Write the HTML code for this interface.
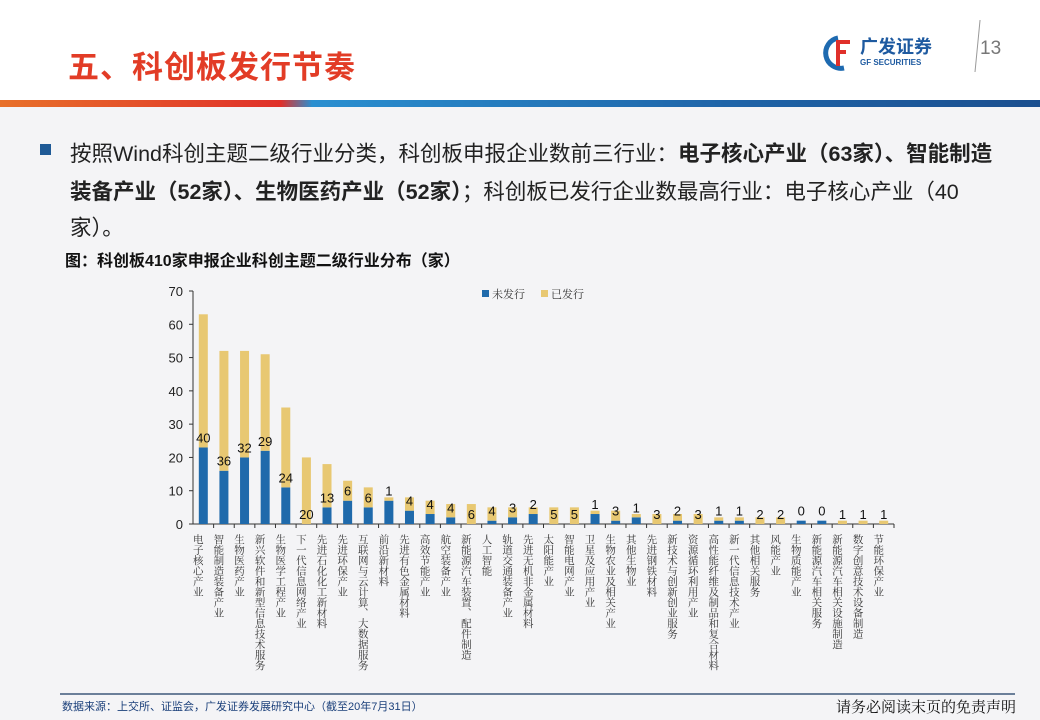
<!DOCTYPE html>
<html><head><meta charset="utf-8"><style>
body{margin:0;width:1040px;height:720px;overflow:hidden;background:#f4f4f6;font-family:"Liberation Sans","Noto Sans CJK SC",sans-serif;position:relative}
.hdr{position:absolute;left:0;top:0;width:1040px;height:100px;background:#fff}
.bar{position:absolute;left:0;top:100px;width:1040px;height:7px;background:linear-gradient(90deg,#e8702a 0%,#e0302a 27%,#2a8fd0 30%,#1f64a8 70%,#1b4f8f 100%)}
.title{position:absolute;left:68px;top:42px;font-size:31px;font-weight:bold;color:#e23c26;letter-spacing:1px}
.txt{position:absolute;left:70px;font-size:21.5px;color:#222;white-space:nowrap}
</style></head><body>
<div class="hdr"></div>
<div class="title">五、科创板发行节奏</div>
<svg style="position:absolute;left:820px;top:20px" width="200" height="55">
<path d="M18 18 a14 14 0 1 0 6 30" stroke="#1e6ab0" stroke-width="5" fill="none"/>
<path d="M16 22 h14 M16 32 h10 M18 20 v26" stroke="#e0302a" stroke-width="4" fill="none"/>
<text x="40" y="33" font-size="18" font-weight="bold" fill="#1e5aa0" font-family="Liberation Sans,Noto Sans CJK SC,sans-serif">广发证券</text>
<text x="40" y="45" font-size="8" font-weight="bold" fill="#1e5aa0" font-family="Liberation Sans,sans-serif">GF SECURITIES</text>
<line x1="155" y1="52" x2="162" y2="-20" stroke="#999" stroke-width="1"/>
<text x="160" y="34" font-size="19" fill="#777" font-family="Liberation Sans,sans-serif">13</text>
</svg>
<div class="bar"></div>
<div style="position:absolute;left:40px;top:144px;width:11px;height:11px;background:#1f5a96"></div>
<div class="txt" style="top:137px">按照Wind科创主题二级行业分类，科创板申报企业数前三行业：<b>电子核心产业（63家）、智能制造</b></div>
<div class="txt" style="top:175px"><b>装备产业（52家）、生物医药产业（52家）</b>；科创板已发行企业数最高行业：电子核心产业（40</div>
<div class="txt" style="top:211px">家）。</div>
<div style="position:absolute;left:65px;top:247px;font-size:16px;font-weight:bold;color:#111">图：科创板410家申报企业科创主题二级行业分布（家）</div>
<svg id="chart" style="position:absolute;left:0;top:0" width="1040" height="720"></svg>
<div style="position:absolute;left:60px;top:693px;width:955px;height:2px;background:#6b7f99"></div>
<div style="position:absolute;left:62px;top:698px;font-size:11px;color:#1a3f7a">数据来源：上交所、证监会，广发证券发展研究中心（截至20年7月31日）</div>
<div style="position:absolute;left:836px;top:696px;font-size:15px;color:#111;font-family:'Noto Serif CJK SC',serif">请务必阅读末页的免责声明</div>
<script>
const categories=["电子核心产业","智能制造装备产业","生物医药产业","新兴软件和新型信息技术服务","生物医学工程产业","下一代信息网络产业","先进石化化工新材料","先进环保产业","互联网与云计算、大数据服务","前沿新材料","先进有色金属材料","高效节能产业","航空装备产业","新能源汽车装置、配件制造","人工智能","轨道交通装备产业","先进无机非金属材料","太阳能产业","智能电网产业","卫星及应用产业","生物农业及相关产业","其他生物业","先进钢铁材料","新技术与创新创业服务","资源循环利用产业","高性能纤维及制品和复合材料","新一代信息技术产业","其他相关服务","风能产业","生物质能产业","新能源汽车相关服务","新能源汽车相关设施制造","数字创意技术设备制造","节能环保产业"];
const unissued=[23,16,20,22,11,0,5,7,5,7,4,3,2,0,1,2,3,0,0,3,1,2,0,1,0,1,1,0,0,1,1,0,0,0];
const issued=[40,36,32,29,24,20,13,6,6,1,4,4,4,6,4,3,2,5,5,1,3,1,3,2,3,1,1,2,2,0,0,1,1,1];
const yTicks=[0,10,20,30,40,50,60,70];
const svg=document.getElementById('chart');const NS='http://www.w3.org/2000/svg';
const X0=193,X1=894,Y0=524,Y70=291;
const band=(X1-X0)/categories.length;
const y=v=>Y0-(v/70)*(Y0-Y70);
const xc=i=>X0+band*(i+0.5);
function mk(t,a,p){const e=document.createElementNS(NS,t);for(const k in a)e.setAttribute(k,a[k]);(p||svg).appendChild(e);return e;}
const ax=mk('line',{x1:X0,y1:Y70,x2:X0,y2:Y0,stroke:'#333'});

const bx=mk('line',{x1:X0,y1:Y0,x2:X1,y2:Y0,stroke:'#333'});

yTicks.forEach(t=>{mk('line',{x1:X0-4,y1:y(t),x2:X0,y2:y(t),stroke:'#333'});
const tx=mk('text',{x:X0-10,y:y(t)+5,'text-anchor':'end','font-size':13,fill:'#222'});tx.textContent=t;
});
const bw=9;
categories.forEach((c,i)=>{
 mk('line',{x1:X0+band*(i+1),y1:Y0,x2:X0+band*(i+1),y2:Y0+4,stroke:'#333'});
 const b1=mk('rect',{x:xc(i)-bw/2,y:y(unissued[i]),width:bw,height:Y0-y(unissued[i]),fill:'#1f6aab'});
 
 const b2=mk('rect',{x:xc(i)-bw/2,y:y(unissued[i]+issued[i]),width:bw,height:y(unissued[i])-y(unissued[i]+issued[i]),fill:'#e8c872'});
 
 const lb=mk('text',{x:xc(i),y:y(unissued[i])-5,'text-anchor':'middle','font-size':13,fill:'#111'});lb.textContent=issued[i];
 
 const ct=mk('text',{x:xc(i)-5,y:Y0+10,'font-size':10.5,fill:'#333','writing-mode':'tb','font-family':'Noto Serif CJK SC,serif'});ct.textContent=c;
 
});
const l1=mk('rect',{x:482,y:290,width:7,height:7,fill:'#1f6aab'});
const l1t=mk('text',{x:492,y:298,'font-size':11,fill:'#333','font-family':'Noto Serif CJK SC,serif'});l1t.textContent='未发行';
const l2=mk('rect',{x:541,y:290,width:7,height:7,fill:'#e8c872'});
const l2t=mk('text',{x:551,y:298,'font-size':11,fill:'#333','font-family':'Noto Serif CJK SC,serif'});l2t.textContent='已发行';
</script>
</body></html>
